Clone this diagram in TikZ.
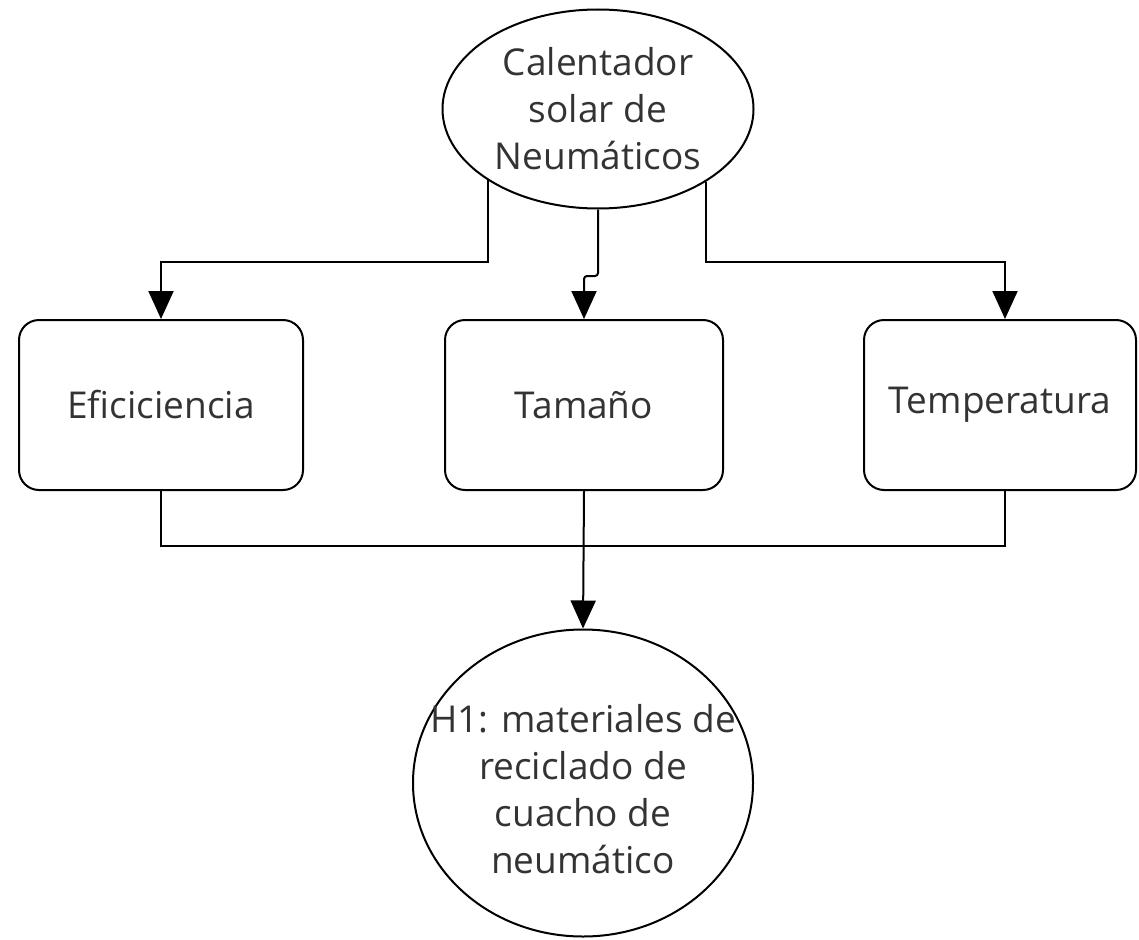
\documentclass[tikz,border=0pt]{standalone}
\usepackage{fontspec}
\setmainfont{Open Sans}
\usepackage{xcolor}
\definecolor{dgtext}{HTML}{333333}
\usetikzlibrary{arrows.meta,positioning,shapes.geometric}

\begin{document}
\begin{tikzpicture}[x=1pt,y=1pt,line width=2pt,
  every node/.style={text=dgtext,font=\fontsize{37}{47}\selectfont,align=center,inner sep=0pt},
  every label/.style={text=dgtext,font=\fontsize{37}{47}\selectfont,align=center,inner sep=0pt},
  oval/.style={draw=black,ellipse},
  card/.style={draw=black,rectangle,rounded corners=20pt,minimum width=#1,minimum height=170pt},
  conn/.style={draw=black,-{Triangle[width=25pt,length=28pt]}},
  wire/.style={draw=black}]
\useasboundingbox (0,0) rectangle (1139,-939);
% source
\node[oval,minimum width=311pt,minimum height=199pt] (calen) at (598,-109) {Calentador\\solar de\\Neumáticos};
% factors
\node[card=284pt] (efic) at (161,-405) {Eficiciencia};
\node[card=278pt] (tam) at (584,-405) {Tamaño};
\node[card=272pt] (temp) at (1000,-405) {Temperatura};
% hypothesis
\node[oval,minimum width=340pt,minimum height=307pt,
  label={[yshift=-6pt]center:H1: materiales de\\reciclado de\\cuacho de\\neumático}] (hyp) at (583,-783) {};

\draw[conn] (calen.-147) |- ([yshift=57pt]efic.north) -- (efic.north);
\draw[conn,rounded corners=3pt] (calen.south) |- ([yshift=43pt]tam.north) -- (tam.north);
\draw[conn] (calen.-34) |- ([xshift=5pt,yshift=57pt]temp.north) -- ([xshift=5pt]temp.north);

\draw[wire] (efic.south) -- ++(0,-55) -| ([xshift=5pt]temp.south);
\draw[conn] (tam.south) -- (hyp.north);
\end{tikzpicture}
\end{document}
